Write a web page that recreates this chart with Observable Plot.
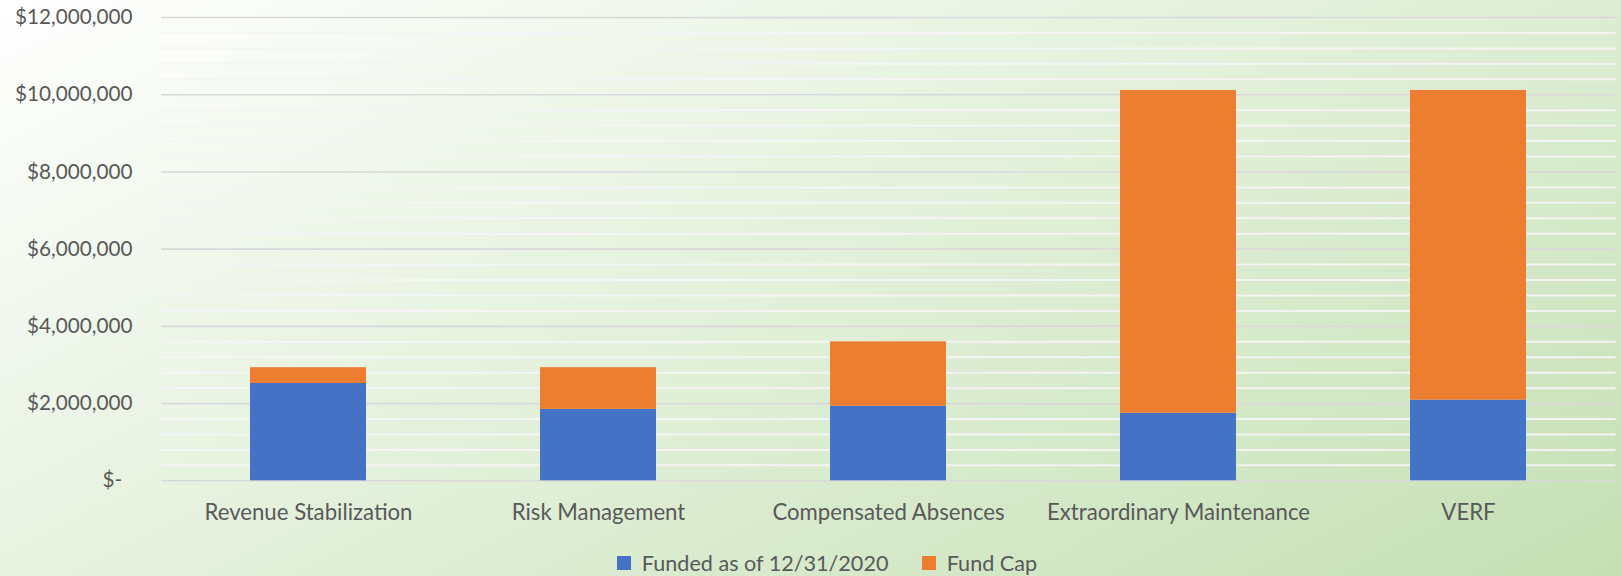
<!DOCTYPE html>
<html>
<head>
<meta charset="utf-8">
<script src="https://cdn.jsdelivr.net/npm/d3@7"></script>
<script src="https://cdn.jsdelivr.net/npm/@observablehq/plot@0.6"></script>
<style>
  html, body { margin: 0; padding: 0; }
  #wrap {
    position: relative;
    width: 1621px; height: 576px; overflow: hidden;
    background: linear-gradient(153deg, #ffffff 0%, #c5e0b4 100%);
    font-family: Lato, "Open Sans", sans-serif;
    color: #595959;
  }
  #chart { position: absolute; left: 0; top: 0; }
  #legend { position: absolute; left: 617px; top: 546px; }
  #legend span { margin-right: 1.55em !important; }
</style>
</head>
<body>
<div id="wrap"><div id="chart"></div><div id="legend"></div></div>
<script>
const categories = ["Revenue Stabilization", "Risk Management", "Compensated Absences", "Extraordinary Maintenance", "VERF"];
const seriesNames = ["Funded as of 12/31/2020", "Fund Cap"];
const funded = [2520000, 1850000, 1930000, 1750000, 2090000];
const fundCap = [410000, 1080000, 1670000, 8360000, 8020000];
const yTicks = [0, 2000000, 4000000, 6000000, 8000000, 10000000, 12000000];
const colors = ["#4472c4", "#ed7d31"];

const rows = [];
categories.forEach((c, i) => rows.push({category: c, series: seriesNames[0], value: funded[i]}));
categories.forEach((c, i) => rows.push({category: c, series: seriesNames[1], value: fundCap[i]}));

const minorTicks = d3.range(0, 12000001, 400000).filter(v => v % 2000000 !== 0);
const fmt = d3.format(",");

const chart = Plot.plot({
  width: 1621,
  height: 530,
  marginTop: 17,
  marginBottom: 49.7,
  marginLeft: 161,
  marginRight: 5.5,
  style: {background: "transparent", fontFamily: "Lato, 'Open Sans', sans-serif", fontSize: "20.7px", color: "#595959"},
  x: {domain: categories, paddingInner: 0.6, paddingOuter: 0.3, label: null},
  y: {domain: [0, 12000000], label: null},
  color: {domain: seriesNames, range: colors},
  marks: [
    Plot.ruleY(minorTicks, {stroke: "#f4f4f4", strokeWidth: 2, strokeOpacity: 0.95}),
    Plot.ruleY(yTicks, {stroke: "#d9d9d9", strokeWidth: 1.6}),
    Plot.barY(rows, {x: "category", y: "value", fill: "series"}),
    Plot.axisY({ticks: yTicks, tickSize: 0, tickPadding: 29, fill: "#595959",
      tickFormat: d => d === 0 ? "$-\u2002" : "$" + fmt(d)}),
    Plot.axisX({tickSize: 0, tickPadding: 23, fill: "#595959", fontSize: 22.2})
  ]
});
document.getElementById("chart").appendChild(chart);

const legend = Plot.legend({
  color: {domain: seriesNames, range: colors},
  swatchSize: 14,
  style: {fontFamily: "Lato, 'Open Sans', sans-serif", fontSize: "21.6px", color: "#595959", background: "transparent", margin: 0}
});
document.getElementById("legend").appendChild(legend);
</script>
</body>
</html>
